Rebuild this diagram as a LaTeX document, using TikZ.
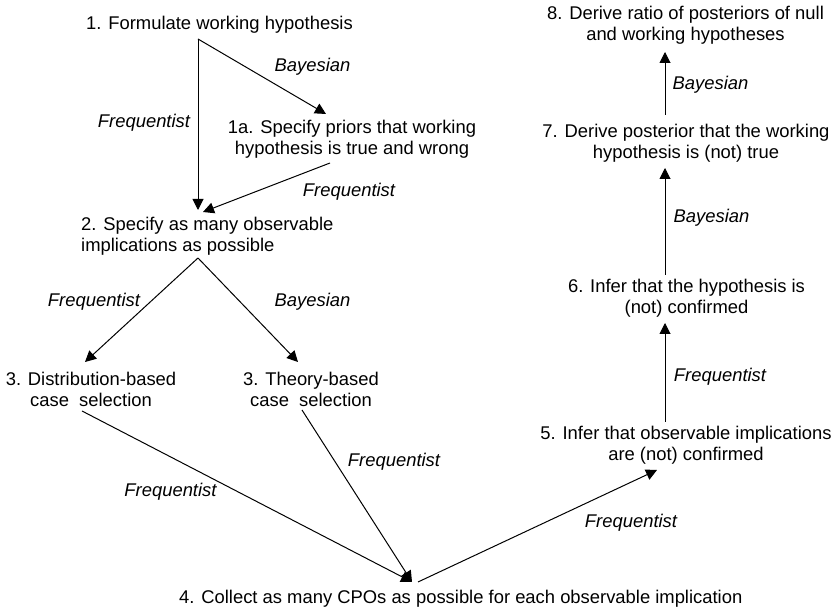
\documentclass[tikz,border=0pt]{standalone}
\usepackage{fontspec}
\setmainfont{Liberation Sans}
\usetikzlibrary{arrows.meta,calc}
\begin{document}
\begin{tikzpicture}[x=1pt,y=-1pt,
  stepnode/.style={inner sep=0pt, font=\fontsize{18.4}{21}\selectfont, align=center},
  pathlabel/.style={inner sep=0pt, font=\fontsize{18.4}{21}\selectfont\itshape},
  flow/.style={line width=1pt, -{Triangle[length=11pt,width=11pt]}}]
\useasboundingbox (0,0) rectangle (839,609);

% steps of the procedure
\node[stepnode] (n1) at (219.5,25) {1. Formulate working hypothesis};
\node[stepnode] (n1a) at (352,139) {1a. Specify priors that working\\hypothesis is true and wrong};
\node[stepnode, align=left, anchor=west] (n2) at (81,236) {2. Specify as many observable\\implications as possible};
\node[stepnode] (n3d) at (91,389) {3. Distribution-based\\case\ \ selection};
\node[stepnode] (n3t) at (311,389) {3. Theory-based\\case\ \ selection};
\node[stepnode, anchor=west] (n4) at (179,599) {4. Collect as many CPOs as possible for each observable implication};
\node[stepnode] (n5) at (686,445) {5. Infer that observable implications\\are (not) confirmed};
\node[stepnode] (n6) at (686.5,298) {6. Infer that the hypothesis is\\(not) confirmed};
\node[stepnode] (n7) at (686,143) {7. Derive posterior that the working\\hypothesis is (not) true};
\node[stepnode] (n8) at (685.5,25) {8. Derive ratio of posteriors of null\\and working hypotheses};

% transitions between the steps
\draw[flow] ($(n1)+(-21.5,14)$) -- ($(n2.west)+(117,-26)$);
\draw[flow] ($(n1)+(-21.5,14)$) -- ($(n1a)+(-26,-25)$);
\draw[flow] ($(n1a)+(-22,24)$) -- ($(n2.west)+(122,-24)$);
\draw[flow] ($(n2.west)+(117,22)$) -- ($(n3d)+(-6,-27)$);
\draw[flow] ($(n2.west)+(117,22)$) -- ($(n3t)+(-13,-27)$);
\draw[flow] ($(n3d)+(-9,22)$) -- ($(n4.west)+(233,-17)$);
\draw[flow] ($(n3t)+(-9,21)$) -- ($(n4.west)+(233,-17)$);
\draw[flow] ($(n4.west)+(239,-17)$) -- ($(n5)+(-29,25)$);
\draw[flow] ($(n5)+(-21,-23)$) -- ($(n6)+(-21.5,25)$);
\draw[flow] ($(n6)+(-21.5,-23)$) -- ($(n7)+(-21,25)$);
\draw[flow] ($(n7)+(-21,-28)$) -- ($(n8)+(-20.5,27)$);

% school of inference for each transition
\node[pathlabel] (lf1) at (144,123) {Frequentist};
\node[pathlabel] (lb1) at (312.5,67) {Bayesian};
\node[pathlabel] (lf2) at (349,192) {Frequentist};
\node[pathlabel] (lf3) at (94,302) {Frequentist};
\node[pathlabel] (lb2) at (312.5,302) {Bayesian};
\node[pathlabel] (lf4) at (170.5,492) {Frequentist};
\node[pathlabel] (lf5) at (394,462) {Frequentist};
\node[pathlabel] (lf6) at (631,523) {Frequentist};
\node[pathlabel] (lf7) at (720,377) {Frequentist};
\node[pathlabel] (lb3) at (711.5,218) {Bayesian};
\node[pathlabel] (lb4) at (710.5,85) {Bayesian};
\end{tikzpicture}
\end{document}
